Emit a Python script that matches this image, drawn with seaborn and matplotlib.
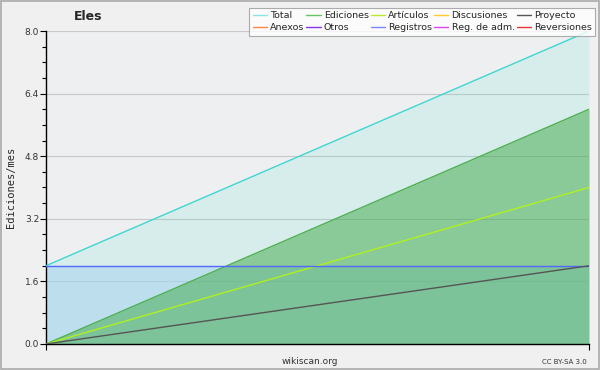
import numpy as np
import pandas as pd
import matplotlib
matplotlib.use("Agg")
import matplotlib.pyplot as plt
from matplotlib.lines import Line2D
from matplotlib.patches import Rectangle
import seaborn as sns

sns.set_style("white")
plt.rcParams['font.family'] = ['DejaVu Sans']

# ---- data ----
months = [0, 1]
total = [2, 8]
ediciones = [0, 6]
articulos = [0, 4]
registros = [2, 2]
proyecto = [0, 2]

legend_labels = ["Total", "Ediciones", "Artículos", "Discusiones", "Proyecto",
                 "Anexos", "Otros", "Registros", "Reg. de adm.", "Reversiones"]
legend_colors = ["#8ee4e4", "#66c466", "#b8ec2a", "#ffcc33", "#555555",
                 "#ff8840", "#8833ee", "#7788ff", "#dd44ee", "#ee3333"]

line_colors = {"Total": "#3ed6d0", "Ediciones": "#4caf50", "Artículos": "#b0f020",
               "Registros": "#5566ff", "Proyecto": "#555555"}

df = pd.DataFrame({
    "x": months * 5,
    "y": total + ediciones + articulos + registros + proyecto,
    "serie": ["Total"] * 2 + ["Ediciones"] * 2 + ["Artículos"] * 2 + ["Registros"] * 2 + ["Proyecto"] * 2,
})

fig = plt.figure(figsize=(6, 3.7), dpi=100, facecolor="#f0f0f0")
ax = fig.add_axes([0.0767, 0.0703, 0.905, 0.8459])
ax.set_facecolor("#eeeff1")

# fills
ax.fill_between(months, 0, total, color="#40e0c8", alpha=0.13, lw=0)
ax.fill_between(months, 0, registros, color="#a8d4f0", alpha=0.55, lw=0)
ax.fill_between(months, 0, ediciones, color="#3fa847", alpha=0.5, lw=0)

sns.lineplot(data=df, x="x", y="y", hue="serie", palette=line_colors,
             ax=ax, legend=False, lw=1, zorder=3)

ax.set_xlim(0, 1)
ax.set_ylim(0, 8)
ax.set_yticks(np.arange(0, 8.01, 1.6))
ax.set_yticklabels([f"{v:.1f}" for v in np.arange(0, 8.01, 1.6)], fontsize=6.5, color="#333333")
ax.set_yticks(np.arange(0, 8.01, 0.4), minor=True)
ax.set_xticks([0, 1])
ax.set_xticklabels(["", ""])
ax.tick_params(axis="y", which="major", length=4, width=0.8, color="black", pad=1, left=True)
ax.tick_params(axis="y", which="minor", length=3, width=0.8, color="black", left=True)
ax.tick_params(axis="x", which="major", length=4, width=0.8, color="black", bottom=True)
ax.grid(axis="y", which="major", color="#c8c8c8", lw=0.8)
ax.set_axisbelow(True)
for s in ["top", "right"]:
    ax.spines[s].set_visible(False)
for s in ["left", "bottom"]:
    ax.spines[s].set_color("black")
    ax.spines[s].set_linewidth(1)
ax.set_xlabel("")
ax.set_ylabel("Ediciones/mes", fontsize=7.5, family="DejaVu Sans Mono", labelpad=6)

# legend
handles = [Line2D([], [], color=c, lw=1) for c in legend_colors]
order = [0, 5, 1, 6, 2, 7, 3, 8, 4, 9]
leg = fig.legend([handles[i] for i in order], [legend_labels[i] for i in order],
                 ncol=5, loc="upper right", bbox_to_anchor=(0.992, 0.978),
                 prop={"family": "DejaVu Sans", "size": 6.8},
                 frameon=True, fancybox=False, shadow=False,
                 handlelength=1.5, handletextpad=0.35, columnspacing=0.2,
                 labelspacing=0.3, borderpad=0.35, borderaxespad=0)
leg.get_frame().set_edgecolor("#999999")
leg.get_frame().set_linewidth(0.8)
leg.set_zorder(10)

fig.text(0.147, 0.955, "Eles", fontsize=9, fontweight="bold", ha="center", va="center")
fig.text(0.517, 0.024, "wikiscan.org", fontsize=6.5, ha="center", va="center", color="#333333")
fig.text(0.978, 0.022, "CC BY-SA 3.0", fontsize=5, ha="right", va="center", color="#333333")

fig.patches.append(Rectangle((0.001, 0.002), 0.997, 0.995, transform=fig.transFigure,
                             fill=False, edgecolor="#aaaaaa", lw=1.2))

fig.savefig("out.png", dpi=100, facecolor=fig.get_facecolor())
